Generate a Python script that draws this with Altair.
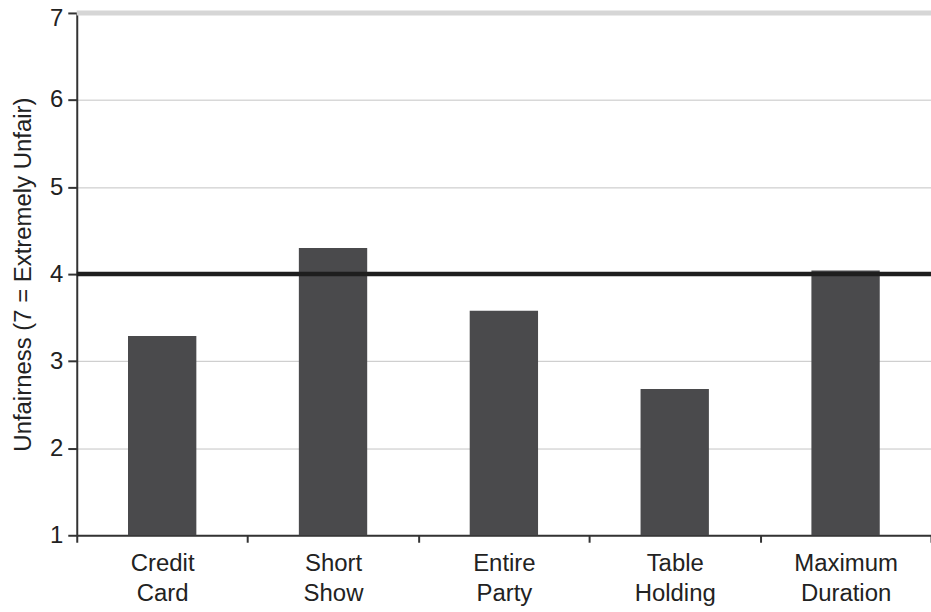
import altair as alt
import pandas as pd

# Perceived unfairness of restaurant policies (1-7 scale)
policies = ["Credit Card", "Short Show", "Entire Party", "Table Holding", "Maximum Duration"]
unfairness = [3.29, 4.30, 3.58, 2.68, 4.04]
midpoint = 4
scale_min, scale_max = 1, 7

df = pd.DataFrame({"policy": policies, "score": unfairness})

FONT = "Liberation Sans"

x_enc = alt.X(
    "policy:N",
    sort=policies,
    title=None,
    scale=alt.Scale(paddingInner=0, paddingOuter=0),
    axis=alt.Axis(
        labelAngle=0,
        labelExpr="split(datum.label, ' ')",
        labelFont=FONT,
        labelFontSize=24,
        labelColor="#222222",
        labelLineHeight=30,
        labelBaseline="top",
        labelPadding=9,
        tickBand="extent",
        tickSize=7,
        tickColor="#333333",
        tickWidth=2,
        domainColor="#333333",
        domainWidth=2,
        grid=False,
    ),
)

y_scale = alt.Scale(domain=[scale_min, scale_max], zero=False, nice=False)

bars = alt.Chart(df).mark_bar(
    color="#4a4a4c", width=alt.RelativeBandSize(0.4)
).encode(
    x=x_enc,
    y=alt.Y(
        "score:Q",
        scale=y_scale,
        title="Unfairness (7 = Extremely Unfair)",
        axis=alt.Axis(
            values=[1, 2, 3, 4, 5, 6, 7],
            format="d",
            labelFont=FONT,
            labelFontSize=24,
            labelColor="#222222",
            labelPadding=5,
            labelOffset={"condition": {"test": "datum.value == 7", "value": 6}, "value": 0},
            tickSize=9,
            tickColor="#333333",
            tickWidth=2,
            domainColor="#333333",
            domainWidth=2,
            grid=True,
            gridColor="#c4c4c4",
            gridWidth=1,
            titleFont=FONT,
            titleFontSize=24,
            titleFontWeight="normal",
            titleColor="#222222",
            titlePadding=14,
        ),
    ),
    y2=alt.datum(scale_min),
)

top_line = alt.Chart(pd.DataFrame({"v": [scale_max]})).mark_rule(
    color="#d6d6d6", strokeWidth=5
).encode(y=alt.Y("v:Q", scale=y_scale))

mid_line = alt.Chart(pd.DataFrame({"v": [midpoint]})).mark_rule(
    color="#1e1e1e", strokeWidth=4.5
).encode(y=alt.Y("v:Q", scale=y_scale))

chart = (
    alt.layer(bars, top_line, mid_line)
    .properties(
        width=857,
        height=524,
        autosize=alt.AutoSizeParams(type="none"),
        padding={"left": 77, "top": 12, "right": 0, "bottom": 76},
        background="white",
    )
    .configure_view(stroke=None)
)

chart.save("out.html", embed_options={"renderer": "svg", "actions": False})
